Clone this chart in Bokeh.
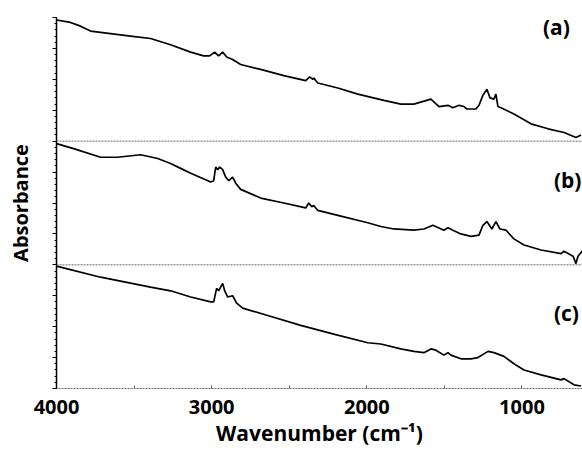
from bokeh.plotting import figure
from bokeh.models import Range1d, Span, Label, SingleIntervalTicker, CustomJSTickFormatter
from bokeh.embed import file_html
from bokeh.resources import INLINE

# Wavenumbers (cm-1) and absorbance (arbitrary units, within each panel)
wn_a = [4000, 3910, 3845, 3781, 3716, 3652, 3523, 3394, 3265, 3135, 3052, 3013, 2981, 2955,
        2929, 2903, 2865, 2813, 2684, 2535, 2394, 2368, 2348, 2342, 2316, 2187, 2058, 1890,
        1781, 1697, 1587, 1535, 1477, 1445, 1406, 1374, 1355, 1297, 1277, 1252, 1226, 1206,
        1181, 1168, 1155, 1135, 1052, 942, 832, 729, 652, 619]
abs_a = [0.98, 0.96, 0.93, 0.89, 0.88, 0.87, 0.85, 0.83, 0.78, 0.72, 0.69, 0.69, 0.72, 0.69,
         0.72, 0.68, 0.66, 0.62, 0.58, 0.53, 0.49, 0.52, 0.50, 0.51, 0.47, 0.43, 0.38, 0.33,
         0.30, 0.30, 0.34, 0.28, 0.29, 0.27, 0.29, 0.28, 0.26, 0.26, 0.29, 0.37, 0.42, 0.35,
         0.34, 0.38, 0.28, 0.27, 0.22, 0.14, 0.10, 0.07, 0.03, 0.05]

wn_b = [4000, 3890, 3716, 3606, 3458, 3348, 3265, 3200, 3135, 3006, 2987, 2974, 2961, 2948,
        2929, 2910, 2890, 2865, 2845, 2813, 2684, 2535, 2394, 2374, 2355, 2342, 2316, 2187,
        1994, 1910, 1826, 1697, 1632, 1574, 1503, 1477, 1445, 1394, 1329, 1277, 1252, 1226,
        1194, 1168, 1142, 1103, 1052, 987, 877, 748, 729, 671, 652, 639, 606]
abs_b = [0.98, 0.94, 0.87, 0.87, 0.89, 0.86, 0.82, 0.78, 0.74, 0.67, 0.68, 0.79, 0.77, 0.79,
         0.77, 0.71, 0.68, 0.71, 0.66, 0.61, 0.54, 0.50, 0.46, 0.50, 0.47, 0.48, 0.44, 0.40,
         0.34, 0.31, 0.29, 0.28, 0.29, 0.32, 0.28, 0.30, 0.28, 0.25, 0.23, 0.24, 0.32, 0.35,
         0.29, 0.35, 0.29, 0.28, 0.21, 0.16, 0.12, 0.09, 0.11, 0.07, 0.01, 0.07, 0.12]

wn_c = [4000, 3716, 3394, 3265, 3135, 3006, 2987, 2968, 2955, 2929, 2916, 2897, 2865, 2839,
        2800, 2639, 2426, 2213, 1994, 1910, 1781, 1697, 1632, 1587, 1555, 1503, 1477, 1458,
        1394, 1329, 1284, 1219, 1181, 1116, 1052, 987, 877, 748, 729, 665, 619]
abs_c = [0.99, 0.90, 0.82, 0.79, 0.74, 0.70, 0.70, 0.81, 0.79, 0.85, 0.79, 0.74, 0.75, 0.69,
         0.65, 0.59, 0.51, 0.44, 0.37, 0.36, 0.32, 0.30, 0.29, 0.32, 0.31, 0.27, 0.29, 0.27,
         0.24, 0.24, 0.25, 0.30, 0.29, 0.26, 0.20, 0.15, 0.11, 0.07, 0.08, 0.03, 0.02]

panel_labels = ["(a)", "(b)", "(c)"]
offsets = [2, 1, 0]
x_ticks_interval = 1000

p = figure(frame_width=526, frame_height=371, output_backend="svg", toolbar_location=None,
           x_range=Range1d(4000, 610), y_range=Range1d(0, 3),
           min_border_left=56, min_border_right=0, min_border_top=17, min_border_bottom=63)
p.outline_line_color = None
p.xgrid.visible = False
p.ygrid.visible = False
p.background_fill_color = "white"
p.border_fill_color = "white"

series = [(wn_a, abs_a), (wn_b, abs_b), (wn_c, abs_c)]
for (wn, ab), off in zip(series, offsets):
    p.line(wn, [v + off for v in ab], line_color="black", line_width=1.7)

for off in offsets[:2]:
    p.add_layout(Span(location=off, dimension="width", line_color="#666666",
                      line_dash="2 1", line_width=1))

# x axis
xa = p.xaxis[0]
xa.ticker = SingleIntervalTicker(interval=x_ticks_interval, num_minor_ticks=2)
xa.axis_line_color = "#666666"
xa.axis_line_dash = "2 1"
xa.major_tick_in = 3
xa.major_tick_out = 0
xa.minor_tick_in = 3
xa.minor_tick_out = 0
xa.major_tick_line_color = "#666666"
xa.minor_tick_line_color = "#666666"
xa.major_label_text_font = "Open Sans"
xa.major_label_text_font_style = "bold"
xa.major_label_text_font_size = "20px"
xa.major_label_text_color = "black"
xa.major_label_standoff = 11
xa.axis_label = "Wavenumber (cm⁻¹)"
xa.axis_label_text_font = "Open Sans"
xa.axis_label_text_font_style = "bold"
xa.axis_label_text_font_size = "21px"
xa.axis_label_text_color = "black"
xa.axis_label_standoff = 2

# y axis
ya = p.yaxis[0]
ya.ticker = SingleIntervalTicker(interval=0.25, num_minor_ticks=5)
ya.formatter = CustomJSTickFormatter(code="return ''")
ya.axis_line_color = "black"
ya.axis_line_width = 1.5
ya.major_tick_in = 0
ya.major_tick_out = 4
ya.minor_tick_in = 0
ya.minor_tick_out = 2
ya.major_label_standoff = 0
ya.axis_label = "Absorbance"
ya.axis_label_text_font = "Open Sans"
ya.axis_label_text_font_style = "bold"
ya.axis_label_text_font_size = "20px"
ya.axis_label_text_color = "black"
ya.axis_label_standoff = 19

label_pos = [(865, 2.92), (794, 1.69), (794, 0.61)]
for txt, (lx, ly) in zip(panel_labels, label_pos):
    p.add_layout(Label(x=lx, y=ly, text=txt, text_font="Open Sans", text_font_style="bold",
                       text_font_size="21px", text_color="black",
                       text_baseline="middle", text_align="left"))

open("out.html", "w").write(file_html(p, INLINE))
